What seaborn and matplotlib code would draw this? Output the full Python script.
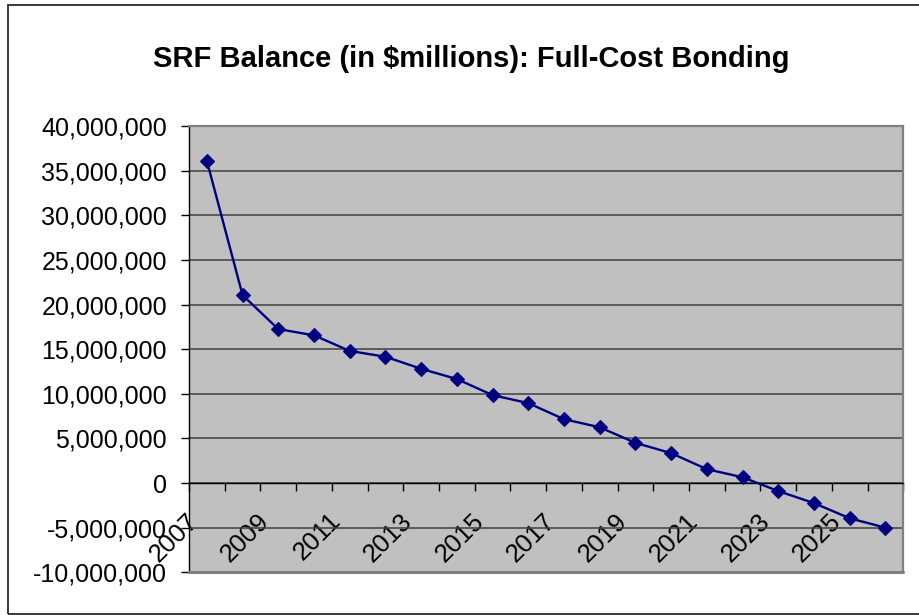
import matplotlib
matplotlib.use("Agg")
import matplotlib.pyplot as plt
import matplotlib.transforms as mtransforms
from matplotlib.patches import Rectangle
import numpy as np
import pandas as pd
import seaborn as sns

# Fund balance by year (dollars)
years = [str(y) for y in range(2007, 2027)]
balance = [36.1e6, 21.05e6, 17.25e6, 16.55e6, 14.8e6, 14.15e6, 12.8e6,
           11.65e6, 9.85e6, 8.95e6, 7.15e6, 6.25e6, 4.5e6, 3.35e6,
           1.55e6, 0.65e6, -0.9e6, -2.25e6, -3.95e6, -5.0e6]
y_ticks = list(range(-10_000_000, 40_000_001, 5_000_000))
title = "SRF Balance (in $millions): Full-Cost Bonding"

sns.set_style("white")
plt.rcParams["font.family"] = ["Liberation Sans", "DejaVu Sans"]
plt.rcParams["text.color"] = "black"
plt.rcParams["xtick.color"] = "black"
plt.rcParams["ytick.color"] = "black"
plt.rcParams["xtick.labelcolor"] = "black"
plt.rcParams["ytick.labelcolor"] = "black"

W, H = 920, 615
fig = plt.figure(figsize=(W / 100, H / 100), dpi=100)
left, right, top, bottom = 189, 903.3, 126, 572.3
ax = fig.add_axes([left / W, (H - bottom) / H, (right - left) / W, (bottom - top) / H])
ax.set_facecolor("#C0C0C0")

df = pd.DataFrame({"pos": np.arange(len(years)), "balance": balance})
sns.lineplot(data=df, x="pos", y="balance", ax=ax, color="#000080", lw=1.7,
             marker="D", markersize=6.9, markeredgecolor="#000080",
             markeredgewidth=0.8, zorder=5)

ax.set_xlim(-0.5, len(years) - 0.5)
ax.set_ylim(y_ticks[0], y_ticks[-1])
ax.set_xlabel("")
ax.set_ylabel("")

# y axis: comma-formatted ticks with horizontal gridlines
ax.set_yticks(y_ticks)
ax.set_yticklabels([f"{v:,}" for v in y_ticks])
ax.yaxis.grid(True, color="#404040", lw=1.1)
ax.set_axisbelow(True)
ax.tick_params(axis="y", direction="out", length=5.8, width=1, color="black",
               labelcolor="black", pad=10, labelsize=18, left=True)

# category axis sits on the zero line
ax.spines["bottom"].set_position(("data", 0))
ax.spines["bottom"].set_color("black")
ax.spines["bottom"].set_linewidth(1)
ax.spines["left"].set_color("black")
ax.spines["left"].set_linewidth(1)
for s in ("top", "right"):
    ax.spines[s].set_color("#808080")
    ax.spines[s].set_linewidth(1.6)
ax.axhline(y_ticks[0], color="#808080", lw=2.2, clip_on=False, zorder=3)

pos = np.arange(len(years))
ax.set_xticks(pos[::2])
ax.set_xticklabels(years[::2], rotation=45, ha="right", va="top")
ax.set_xticks(np.arange(-0.5, len(years), 1), minor=True)
ax.tick_params(axis="x", which="major", length=0, pad=18.5, labelsize=18.5,
               labelcolor="black", bottom=True)
ax.tick_params(axis="x", which="minor", direction="out", length=5.5, width=1,
               color="black", bottom=True)
shift = mtransforms.ScaledTranslation(-4 / 100, 0, fig.dpi_scale_trans)
for lbl in ax.get_xticklabels():
    lbl.set_transform(lbl.get_transform() + shift)

fig.text(471 / W, 1 - 67 / H, title, ha="center", va="baseline",
         fontsize=21, fontweight="bold", color="black")

# outer chart frame
fig.add_artist(Rectangle((8 / W, (H - 613.5) / H), (940 - 8) / W, (613.5 - 5) / H,
                         transform=fig.transFigure, fill=False,
                         ec="#2a2a2a", lw=1.3))

fig.savefig("out.png", dpi=100)
